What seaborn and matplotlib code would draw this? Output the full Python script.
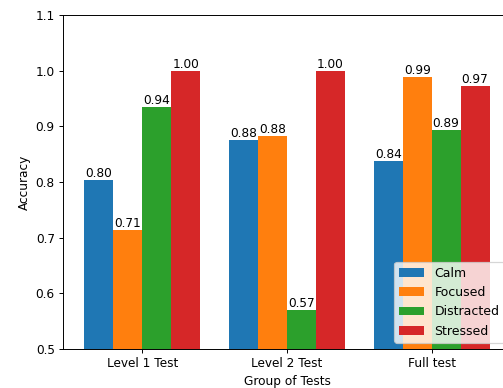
import matplotlib
matplotlib.use("Agg")
import matplotlib.pyplot as plt
import pandas as pd
import seaborn as sns

# valores
grupos = ['Level 1 Test', 'Level 2 Test', 'Full test']
estados = ['Calm', 'Focused', 'Distracted', 'Stressed']
calm = [0.803, 0.875, 0.837]
focused = [0.714, 0.882, 0.988]
distracted = [0.935, 0.570, 0.893]
stressed = [1.000, 1.000, 0.972]

valores = {'Calm': calm, 'Focused': focused, 'Distracted': distracted, 'Stressed': stressed}
linhas = []
for est in estados:
    for g, v in zip(grupos, valores[est]):
        linhas.append({'Grupo': g, 'Estado': est, 'Accuracy': v})
df = pd.DataFrame(linhas)

# dpi 87 -> texto e linhas um pouco menores, como no original
fig = plt.figure(figsize=(503 / 87, 388 / 87), dpi=87)
# eixo passa da borda direita como no original
ax = fig.add_axes([0.1258, 0.1005, 0.8895, 0.8608])

sns.barplot(data=df, x='Grupo', y='Accuracy', hue='Estado', hue_order=estados,
            order=grupos, palette='tab10', saturation=1, errorbar=None, ax=ax)

for c in ax.containers:
    ax.bar_label(c, fmt='%.2f', fontsize=10)

ax.set_ylim(0.5, 1.1)
ax.set_xlim(-0.546, 2.546)
ax.set_xlabel('Group of Tests')
ax.set_ylabel('Accuracy')
sns.move_legend(ax, 'lower right', title=None, fontsize=10.4)

fig.savefig('out.png', dpi=87)
